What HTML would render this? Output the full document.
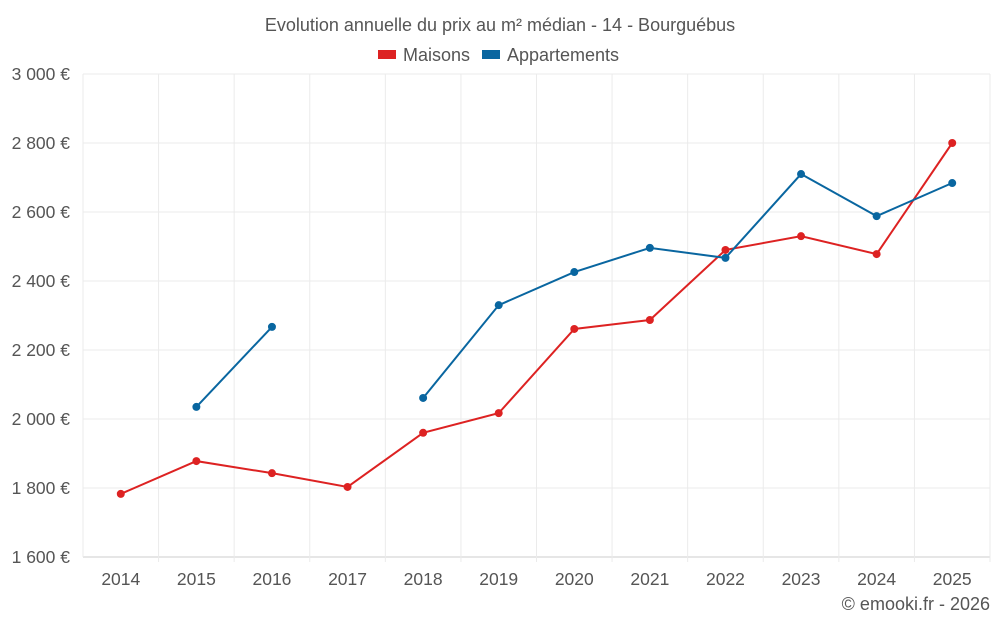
<!DOCTYPE html>
<html><head><meta charset="utf-8"><style>
body{margin:0;background:#fff;font-family:"Liberation Sans",sans-serif;}
svg text{font-family:"Liberation Sans",sans-serif;fill:#555;}
</style></head><body>
<svg id="c" width="1000" height="625">
<text x="500" y="31" text-anchor="middle" font-size="18">Evolution annuelle du prix au m² médian - 14 - Bourguébus</text>
<g><rect x="378" y="50" width="18" height="9" fill="#dd2222"/><text x="403" y="61" font-size="18">Maisons</text></g>
<g><rect x="482" y="50" width="18" height="9" fill="#0966a0"/><text x="507" y="61" font-size="18">Appartements</text></g>
<g id="grid"></g><g id="axes"></g><g id="series"></g>
<text x="990" y="610" text-anchor="end" font-size="18">© emooki.fr - 2026</text>
</svg>
<script>
const years=[2014,2015,2016,2017,2018,2019,2020,2021,2022,2023,2024,2025];
const maisons=[1783,1878,1843,1803,1960,2017,2261,2287,2490,2530,2478,2800];
const appartements=[null,2035,2267,null,2061,2330,2426,2496,2467,2710,2588,2684];
const yTicks=[1600,1800,2000,2200,2400,2600,2800,3000];
const yLabels=["1 600 €","1 800 €","2 000 €","2 200 €","2 400 €","2 600 €","2 800 €","3 000 €"];
const L=83,R=990,T=74,B=557,NS="http://www.w3.org/2000/svg";
const step=(R-L)/years.length;
const x=i=>L+step*(i+0.5);
const y=v=>B-(v-1600)/(3000-1600)*(B-T);
function mk(tag,attrs,parent){const e=document.createElementNS(NS,tag);for(const k in attrs)e.setAttribute(k,attrs[k]);parent.appendChild(e);return e;}
const g=document.getElementById('grid'),a=document.getElementById('axes'),s=document.getElementById('series');
yTicks.forEach((v,i)=>{
 const l=mk('line',{x1:L,x2:R,y1:y(v),y2:y(v),stroke:i==0?'#ccc':'#ebebeb'},g);
 
 
 const t=mk('text',{x:70,y:y(v)+6,'text-anchor':'end','font-size':17.5},a);t.textContent=yLabels[i];
 
 
});
for(let i=0;i<=years.length;i++){
 const l=mk('line',{x1:L+step*i,x2:L+step*i,y1:T,y2:B+(i==0?0:5),stroke:'#ebebeb'},g);
 
 
}
years.forEach((yr,i)=>{
 const t=mk('text',{x:x(i),y:585,'text-anchor':'middle','font-size':17.5},a);t.textContent=yr;
 
 
});
function draw(data,color,name){
 let segs=[],cur=[];
 data.forEach((v,i)=>{if(v==null){if(cur.length)segs.push(cur);cur=[];}else cur.push([x(i),y(v)]);});
 if(cur.length)segs.push(cur);
 segs.forEach(sg=>{
  const p=mk('polyline',{points:sg.map(q=>q.join(',')).join(' '),fill:'none',stroke:color,'stroke-width':2},s);
  
  
 });
 data.forEach((v,i)=>{if(v==null)return;
  const c=mk('circle',{cx:x(i),cy:y(v),r:4,fill:color},s);
  
  
 });
}
draw(maisons,'#dd2222','maisons');
draw(appartements,'#0966a0','appartements');
</script>
</body></html>
